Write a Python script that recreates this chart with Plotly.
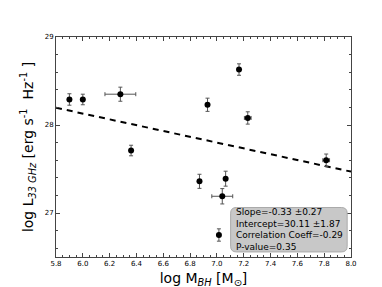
import plotly.graph_objects as go

# data
log_mbh = [5.90, 6.00, 6.28, 6.36, 6.87, 6.93, 7.165, 7.23, 7.065, 7.04, 7.015, 7.815]
log_mbh_err = [0.0, 0.0, 0.115, 0.0, 0.0, 0.0, 0.0, 0.025, 0.0, 0.078, 0.0, 0.025]
log_l33 = [28.29, 28.29, 28.35, 27.71, 27.36, 28.23, 28.63, 28.08, 27.39, 27.19, 26.75, 27.60]
log_l33_err = [0.065, 0.06, 0.08, 0.06, 0.08, 0.075, 0.065, 0.07, 0.085, 0.087, 0.07, 0.07]

slope = -0.33
slope_err = 0.27
intercept = 30.11
intercept_err = 1.87
corr_coeff = -0.29
p_value = 0.35

x_range = [5.8, 8.0]
y_range = [26.5, 29.0]
x_ticks = [5.8, 6.0, 6.2, 6.4, 6.6, 6.8, 7.0, 7.2, 7.4, 7.6, 7.8, 8.0]
y_ticks = [27, 28, 29]

font = "DejaVu Sans"
fig = go.Figure()

fit_x = list(x_range)
fit_y = [intercept + slope * v for v in fit_x]
fig.add_trace(go.Scatter(x=fit_x, y=fit_y, mode="lines",
                         line=dict(color="black", width=2, dash="6px,5px"),
                         hoverinfo="skip", showlegend=False))

fig.add_trace(go.Scatter(
    x=log_mbh, y=log_l33, mode="markers",
    marker=dict(color="black", size=6),
    error_x=dict(type="data", array=log_mbh_err, color="#555555", thickness=1, width=2),
    error_y=dict(type="data", array=log_l33_err, color="#555555", thickness=1, width=2),
    showlegend=False))

axis_common = dict(showgrid=False, zeroline=False, showline=True, linecolor="#444444",
                   linewidth=1, mirror="allticks", ticks="inside", ticklen=4,
                   tickcolor="#444444", tickfont=dict(size=7, family=font, color="black"))

fig.update_xaxes(range=x_range, tickvals=x_ticks, ticktext=[f"{v:.1f}" for v in x_ticks],
                 minor=dict(dtick=0.05, ticks="inside", ticklen=2, tickcolor="#444444"),
                 title=dict(text="log M<sub><i>BH</i></sub> [M<sub>⊙</sub>]",
                            font=dict(size=14, family=font, color="black"), standoff=5),
                 **axis_common)
fig.update_yaxes(range=y_range, tickvals=y_ticks, ticktext=[str(v) for v in y_ticks],
                 minor=dict(dtick=0.2, tick0=27, ticks="inside", ticklen=2, tickcolor="#444444"),
                 title=dict(text="log L<sub><i>33 GHz</i></sub> [erg s<sup>-1</sup>  Hz<sup>-1</sup> ]",
                            font=dict(size=14, family=font, color="black"), standoff=7),
                 **axis_common)

# rounded box
x0, x1, y0, y1, r = 0.592, 0.987, 0.023, 0.225, 0.02
ry = r * 295 / 228
path = (f"M {x0+r},{y0} L {x1-r},{y0} Q {x1},{y0} {x1},{y0+ry} L {x1},{y1-ry} "
        f"Q {x1},{y1} {x1-r},{y1} L {x0+r},{y1} Q {x0},{y1} {x0},{y1-ry} "
        f"L {x0},{y0+ry} Q {x0},{y0} {x0+r},{y0} Z")
fig.add_shape(type="path", path=path, xref="paper", yref="paper",
              fillcolor="#c8c8c8", line=dict(color="#aaaaaa", width=1), layer="above")

txt = (f"Slope={slope:.2f} ±{slope_err:.2f}<br>Intercept={intercept:.2f} ±{intercept_err:.2f}"
       f"<br>Correlation Coeff={corr_coeff:.2f}<br>P-value={p_value:.2f}")
fig.add_annotation(x=x0 + 0.012, y=(y0 + y1) / 2, xref="paper", yref="paper",
                   xanchor="left", yanchor="middle", align="left", showarrow=False,
                   text=txt, font=dict(size=9, family=font, color="black"))

fig.update_layout(width=382, height=287, margin=dict(l=48, r=39, t=29, b=30),
                  plot_bgcolor="white", paper_bgcolor="white",
                  font=dict(family=font))
fig.write_html("out.html")
